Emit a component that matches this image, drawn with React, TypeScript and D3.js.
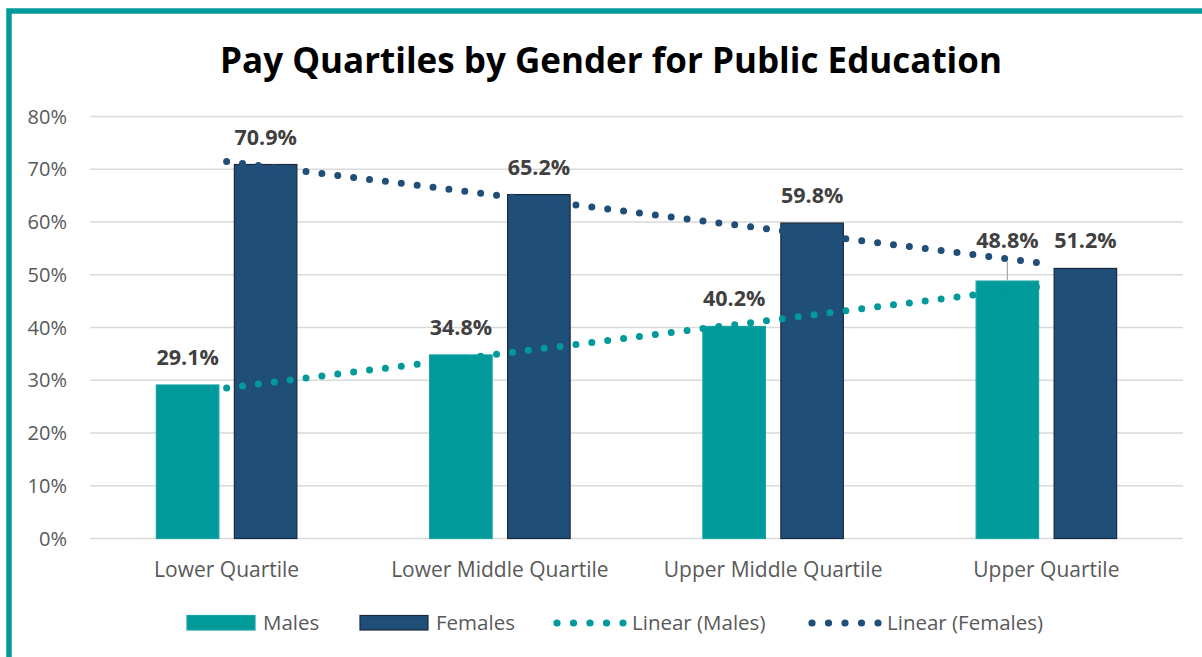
import React from 'react';
import * as d3 from 'd3';

const WIDTH = 1202;
const HEIGHT = 657;
const MARGIN = { top: 116.5, right: 19, bottom: 118.5, left: 90 };
const GRAPH_WIDTH = WIDTH - MARGIN.left - MARGIN.right;
const GRAPH_HEIGHT = HEIGHT - MARGIN.top - MARGIN.bottom;

const TITLE = 'Pay Quartiles by Gender for Public Education';
const categories = ['Lower Quartile', 'Lower Middle Quartile', 'Upper Middle Quartile', 'Upper Quartile'];
const males = [29.1, 34.8, 40.2, 48.8];
const females = [70.9, 65.2, 59.8, 51.2];
const yTicks = [0, 10, 20, 30, 40, 50, 60, 70, 80];

const TEAL = '#009a9a';
const NAVY = '#1f4e79';
const FONT = '"Open Sans", "Noto Sans", sans-serif';

// least squares fit over category index 1..n, same as the Excel linear trendline
function linearFit(values: number[]) {
  const xs = values.map((_, i) => i + 1);
  const mx = d3.mean(xs) as number;
  const my = d3.mean(values) as number;
  const slope = d3.sum(xs, (x, i) => (x - mx) * (values[i] - my)) / d3.sum(xs, (x) => (x - mx) ** 2);
  return xs.map((x) => my + slope * (x - mx));
}

export default function App() {
  const xScale = d3.scaleBand().domain(categories).range([0, GRAPH_WIDTH]);
  const yScale = d3.scaleLinear().domain([0, 80]).range([GRAPH_HEIGHT, 0]);
  const barW = 62.5;
  const gap = 15.5;
  const series = [
    { name: 'Males', values: males, fill: TEAL, stroke: '#19a3a3', dx: -(gap / 2 + barW) },
    { name: 'Females', values: females, fill: NAVY, stroke: '#1b2a3a', dx: gap / 2 },
  ];
  const center = (c: string) => (xScale(c) as number) + xScale.bandwidth() / 2;

  const trendLine = d3.line<number>()
    .x((_, i) => center(categories[i]))
    .y((d) => yScale(d));

  const legendItems = [
    { label: 'Males', kind: 'bar', color: TEAL, stroke: '#19a3a3', x: 187 },
    { label: 'Females', kind: 'bar', color: NAVY, stroke: '#1b2a3a', x: 360 },
    { label: 'Linear (Males)', kind: 'dots', color: TEAL, x: 553 },
    { label: 'Linear (Females)', kind: 'dots', color: NAVY, x: 808 },
  ];

  return (
    <svg width={WIDTH} height={HEIGHT} style={{ position: 'absolute', left: 0, top: 0, background: '#fff' }}
      xmlns="http://www.w3.org/2000/svg">
      <rect x={9} y={11} width={1400} height={900} fill="none" stroke={TEAL} strokeWidth={5.5} />
      <text x={611} y={73} textAnchor="middle" fontFamily={FONT} fontWeight="bold" fontSize={35} fill="#000">
        {TITLE}
      </text>
      <g transform={`translate(${MARGIN.left}, ${MARGIN.top})`}>
        {yTicks.map((t) => (
          <g key={t}>
            <line x1={0} x2={GRAPH_WIDTH} y1={yScale(t)} y2={yScale(t)} stroke="#d9d9d9" strokeWidth={1.5} />
            <text x={-23} y={yScale(t)} dy="0.35em" textAnchor="end" fontFamily={FONT} fontSize={20} fill="#595959">
              {t}%
            </text>
          </g>
        ))}
        {categories.map((c) => (
          <text key={c} x={center(c)} y={GRAPH_HEIGHT + 38} textAnchor="middle" fontFamily={FONT} fontSize={21} fill="#595959">
            {c}
          </text>
        ))}
        {series.map((s) => (
          <g key={s.name}>
            {s.values.map((v, i) => (
              <rect key={i} x={center(categories[i]) + s.dx} y={yScale(v)} width={barW}
                height={GRAPH_HEIGHT - yScale(v)} fill={s.fill} stroke={s.stroke} strokeWidth={1.2} />
            ))}
          </g>
        ))}
        {series.map((s) => (
          <path key={s.name} d={trendLine(linearFit(s.values)) as string} fill="none" stroke={s.fill}
            strokeWidth={7} strokeLinecap="round" strokeDasharray="0 16" />
        ))}
        {series.map((s) => (
          <g key={s.name}>
            {s.values.map((v, i) => {
              const cx = center(categories[i]) + s.dx + barW / 2;
              // the last male label is lifted above the trendline, with a leader line
              const lifted = s.name === 'Males' && i === categories.length - 1;
              const ly = lifted ? yScale(females[i]) - 20 : yScale(v) - 20;
              return (
                <g key={i}>
                  {lifted && (
                    <line x1={cx} x2={cx} y1={ly + 13} y2={yScale(v)} stroke="#a6a6a6" strokeWidth={1.2} />
                  )}
                  <text x={cx} y={ly} textAnchor="middle" fontFamily={FONT} fontWeight="bold" fontSize={21.5} fill="#404040">
                    {v.toFixed(1)}%
                  </text>
                </g>
              );
            })}
          </g>
        ))}
      </g>
      <g transform="translate(0, 623)">
        {legendItems.map((l) => (
          <g key={l.label} transform={`translate(${l.x}, 0)`}>
            {l.kind === 'bar' ? (
              <rect x={0} y={-7.5} width={68} height={14.5} fill={l.color} stroke={l.stroke} strokeWidth={1.2} />
            ) : (
              d3.range(5).map((k) => <circle key={k} cx={4 + k * 16.5} cy={0} r={3.6} fill={l.color} />)
            )}
            <text x={l.kind === 'bar' ? 76 : 79} y={0} dy="0.35em" fontFamily={FONT} fontSize={20.5} fill="#595959">
              {l.label}
            </text>
          </g>
        ))}
      </g>
    </svg>
  );
}
